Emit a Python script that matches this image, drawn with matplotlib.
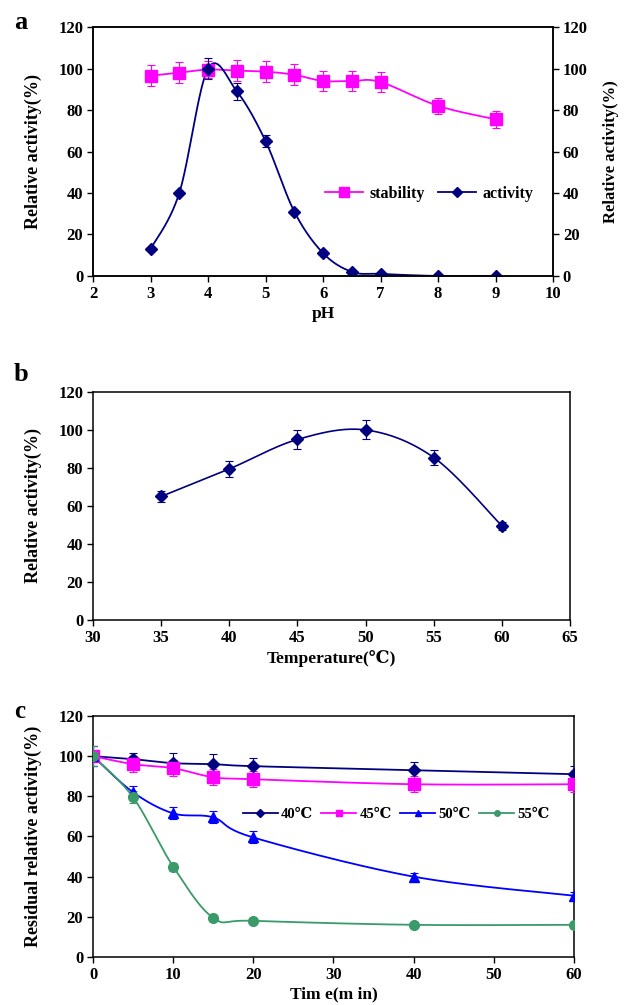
import numpy as np
import matplotlib.pyplot as plt
from matplotlib.lines import Line2D

plt.rcParams['font.family'] = ['Liberation Serif', 'DejaVu Serif']
plt.rcParams['font.weight'] = 'bold'

# panel a: pH
ph = [3, 3.5, 4, 4.5, 5, 5.5, 6, 6.5, 7, 8, 9]
stability = [96.5, 98, 99.5, 99, 98.5, 97, 94, 94, 93.5, 82, 75.5]
stability_err = [5, 5, 4, 5, 5, 5, 5, 5, 5, 4, 4]
activity = [13, 40, 100, 89, 65, 31, 11, 2, 1, 0, 0]
activity_err = [0, 0, 5, 4, 3, 0, 0, 0, 0, 0, 0]

# panel b: temperature
temp = [35, 40, 45, 50, 55, 60]
temp_act = [65, 79.5, 95, 100, 85.5, 49.5]
temp_err = [3, 4, 5, 5, 4, 2]

# panel c: thermostability
time = [0, 5, 10, 15, 20, 40, 60]
t40 = [100, 98.5, 96.5, 96, 95, 93, 91]
t45 = [100, 96, 94, 89.5, 88.5, 86, 86]
t50 = [100, 82, 71.5, 69.5, 59.5, 40, 30.5]
t55 = [100, 79.5, 45, 19.5, 18, 16, 16]
err40 = [5, 3, 5, 5, 4, 4, 4]
err45 = [5, 4, 4, 4, 4, 4, 4]
err50 = [5, 3, 3, 3, 3, 2, 2]
err55 = [5, 3, 2, 1, 1, 1, 1]

NAVY = '#000080'
PINK = '#ff00ff'
BLUE = '#0000ff'
GREEN = '#3a9a6a'


def smooth(x, y, n=40):
    # Excel-like smoothed line (Bezier with 1/6 tangents)
    x = np.asarray(x, float)
    y = np.asarray(y, float)
    px = np.concatenate([[x[0]], x, [x[-1]]])
    py = np.concatenate([[y[0]], y, [y[-1]]])
    xs, ys = [], []
    t = np.linspace(0, 1, n)
    for i in range(1, len(px) - 2):
        p0 = np.array([px[i], py[i]])
        p3 = np.array([px[i + 1], py[i + 1]])
        c1 = p0 + (p3 - np.array([px[i - 1], py[i - 1]])) / 6
        c2 = p3 - (np.array([px[i + 2], py[i + 2]]) - p0) / 6
        pts = ((1 - t)[:, None] ** 3 * p0 + 3 * ((1 - t) ** 2 * t)[:, None] * c1
               + 3 * ((1 - t) * t ** 2)[:, None] * c2 + (t ** 3)[:, None] * p3)
        xs.extend(pts[:, 0])
        ys.extend(pts[:, 1])
    return xs, ys


def series(ax, x, y, err, color, marker, ms, lw=1.3):
    sx, sy = smooth(x, y)
    ax.plot(sx, sy, color=color, lw=lw, zorder=2)
    ax.errorbar(x, y, yerr=err, fmt='none', ecolor=color, elinewidth=0.8,
                capsize=3, capthick=0.8, zorder=3)
    ax.plot(x, y, ls='none', marker=marker, color=color, ms=ms, zorder=4)


def style(ax):
    ax.tick_params(direction='out', length=4, width=1, labelsize=12, pad=3)
    for s in ax.spines.values():
        s.set_linewidth(1.1)
    for lab in ax.get_xticklabels() + ax.get_yticklabels():
        lab.set_fontweight('bold')


fig = plt.figure(figsize=(6.26, 10.05), dpi=100)

# ---- a ----
ax1 = fig.add_axes([0.1486, 0.7254, 0.735, 0.2477])
series(ax1, ph, stability, stability_err, PINK, 's', 8)
series(ax1, ph, activity, activity_err, NAVY, 'D', 6)
ax1.set_xlim(2, 10)
ax1.set_ylim(0, 120)
ax1.set_xticks(range(2, 11))
ax1.set_yticks(range(0, 121, 20))
ax1.set_xlabel('pH', fontsize=12.5, fontweight='bold', labelpad=3)
ax1.set_ylabel('Relative activity(%)', fontsize=13, fontweight='bold', labelpad=12)
ax1r = ax1.twinx()
ax1r.set_ylim(0, 120)
ax1r.set_yticks(range(0, 121, 20))
ax1r.set_ylabel('Relative activity(%)', fontsize=12, fontweight='bold',
                rotation=90, labelpad=11)
style(ax1)
style(ax1r)
h = [Line2D([], [], color=PINK, marker='s', ms=7, lw=1.3),
     Line2D([], [], color=NAVY, marker='D', ms=5, lw=1.3)]
ax1.legend(h, ['stability', 'activity'], loc='center', bbox_to_anchor=(0.73, 0.33),
           ncol=2, frameon=False, fontsize=11.5, handlelength=2.4,
           columnspacing=0.8, handletextpad=0.4)
fig.text(0.022, 0.978, 'a', fontsize=19, fontweight='bold', va='center')

# ---- b ----
ax2 = fig.add_axes([0.1486, 0.3831, 0.762, 0.2269])
series(ax2, temp, temp_act, temp_err, NAVY, 'D', 6, lw=1.2)
ax2.set_xlim(30, 65)
ax2.set_ylim(0, 120)
ax2.set_xticks(range(30, 66, 5))
ax2.set_yticks(range(0, 121, 20))
ax2.set_xlabel('Temperature(\u2103)', fontsize=12.5, fontweight='bold', labelpad=3)
ax2.set_ylabel('Relative activity(%)', fontsize=13, fontweight='bold', labelpad=12)
style(ax2)
fig.text(0.022, 0.627, 'b', fontsize=19, fontweight='bold', va='center')

# ---- c ----
ax3 = fig.add_axes([0.1486, 0.0478, 0.768, 0.2398])
series(ax3, time, t40, err40, NAVY, 'D', 6)
series(ax3, time, t45, err45, PINK, 's', 8)
series(ax3, time, t50, err50, BLUE, '^', 7)
series(ax3, time, t55, err55, GREEN, 'o', 7)
ax3.set_xlim(0, 60)
ax3.set_ylim(0, 120)
ax3.set_xticks(range(0, 61, 10))
ax3.set_yticks(range(0, 121, 20))
ax3.set_xlabel('Tim e(m in)', fontsize=12.5, fontweight='bold', labelpad=3)
ax3.set_ylabel('Residual relative activity(%)', fontsize=13, fontweight='bold', labelpad=12)
style(ax3)
h = [Line2D([], [], color=NAVY, marker='D', ms=4, lw=1.3),
     Line2D([], [], color=PINK, marker='s', ms=5, lw=1.3),
     Line2D([], [], color=BLUE, marker='^', ms=5, lw=1.3),
     Line2D([], [], color=GREEN, marker='o', ms=4, lw=1.3)]
ax3.legend(h, ['40\u2103', '45\u2103', '50\u2103', '55\u2103'], loc='center',
           bbox_to_anchor=(0.63, 0.59), ncol=4, frameon=False, fontsize=10.5,
           handlelength=2.4, columnspacing=0.6, handletextpad=0.2)
fig.text(0.022, 0.292, 'c', fontsize=18, fontweight='bold', va='center')

fig.savefig('out.png', dpi=100)
